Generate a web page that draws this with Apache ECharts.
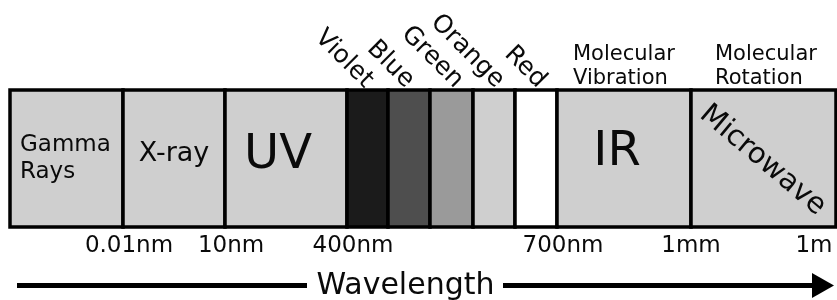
<!DOCTYPE html>
<html>
<head>
<meta charset="utf-8">
<script src="https://cdn.jsdelivr.net/npm/echarts@6/dist/echarts.min.js"></script>
<style>
  html, body { margin: 0; padding: 0; background: #fff; }
  #chart { width: 837px; height: 300px; }
</style>
</head>
<body>
<div id="chart"></div>
<script>
// bands of the spectrum, left to right (widths as drawn, not to scale)
const bandNames = ['Gamma Rays', 'X-ray', 'UV', 'Violet', 'Blue', 'Green', 'Orange', 'Red', 'IR', 'Microwave'];
const bandEdges = [0, 113, 215, 337, 378, 420, 463, 505, 547, 681, 826];
// wavelength marks at the band edges
const tickEdges = [113, 215, 337, 547, 681, 826];
const tickLabels = ['0.01nm', '10nm', '400nm', '700nm', '1mm', '1m'];
// what each region does to molecules
const aboveNames = ['IR', 'Microwave'];
const aboveLabels = ['Molecular\nVibration', 'Molecular\nRotation'];

const FONT = '"DejaVu Sans", sans-serif';
const LIGHT = '#cfcfcf';

// look of each band: fill, inner text, text above the box
const bandStyle = {
  'Gamma Rays': { fill: LIGHT, text: 'Gamma\nRays', size: 23, lh: 27, align: 'left', dx: 10, dy: 0 },
  'X-ray': { fill: LIGHT, text: 'X-ray', size: 27, dx: 0, dy: -5 },
  'UV': { fill: LIGHT, text: 'UV', size: 48, dx: -8, dy: -3 },
  'Violet': { fill: '#1b1b1b', tilt: 22 },
  'Blue': { fill: '#4e4e4e', tilt: 22 },
  'Green': { fill: '#9a9a9a', tilt: 29 },
  'Orange': { fill: LIGHT, tilt: 27 },
  'Red': { fill: '#ffffff', tilt: 27 },
  'IR': { fill: LIGHT, text: 'IR', size: 48, dx: -7, dy: -6, above: 16 },
  'Microwave': { fill: LIGHT, text: 'Microwave', size: 29, dx: -1, dy: 2, rot: -40, above: 24 }
};

const bandData = bandNames.map(function (name, i) {
  return [bandEdges[i], bandEdges[i + 1], i];
});

function renderBand(params, api) {
  const name = bandNames[api.value(2)];
  const st = bandStyle[name];
  const p0 = api.coord([api.value(0), 1]);
  const p1 = api.coord([api.value(1), 0]);
  const w = p1[0] - p0[0], h = p1[1] - p0[1];
  const kids = [{
    type: 'rect',
    shape: { x: p0[0], y: p0[1], width: w, height: h },
    style: { fill: st.fill, stroke: '#000', lineWidth: 3.5 }
  }];
  if (st.text) {
    const left = st.align === 'left';
    kids.push({
      type: 'text',
      x: (left ? p0[0] : p0[0] + w / 2) + st.dx,
      y: p0[1] + h / 2 + st.dy,
      rotation: st.rot ? st.rot * Math.PI / 180 : 0,
      style: {
        text: st.text, fill: '#0a0a0a', font: st.size + 'px ' + FONT,
        lineHeight: st.lh || st.size,
        align: left ? 'left' : 'center', verticalAlign: 'middle'
      }
    });
  }
  if (st.tilt) {
    // colour names lean up-left, ending just above their band
    kids.push({
      type: 'text',
      x: p0[0] + st.tilt,
      y: p0[1] - 6,
      rotation: -Math.PI / 4,
      style: {
        text: name, fill: '#0a0a0a', font: '25px ' + FONT,
        align: 'right', verticalAlign: 'middle'
      }
    });
  }
  const k = aboveNames.indexOf(name);
  if (k >= 0) {
    kids.push({
      type: 'text',
      x: p0[0] + st.above,
      y: p0[1] - 23,
      style: {
        text: aboveLabels[k], fill: '#0a0a0a', font: '21px ' + FONT,
        lineHeight: 24, align: 'left', verticalAlign: 'middle'
      }
    });
  }
  return { type: 'group', children: kids };
}

const chart = echarts.init(document.getElementById('chart'), null, { renderer: 'canvas' });

chart.setOption({
  animation: false,
  backgroundColor: '#fff',
  grid: { left: 10, right: 1, top: 90, bottom: 73 },
  xAxis: {
    type: 'value', min: 0, max: bandEdges[bandEdges.length - 1],
    axisLine: { show: false }, axisTick: { show: false }, splitLine: { show: false },
    axisLabel: {
      customValues: tickEdges,
      margin: 8,
      formatter: function (v) {
        const i = tickEdges.indexOf(v);
        if (i < 0) return '';
        if (tickLabels[i] === '1m') return '{end|' + tickLabels[i] + '}';
        if (tickLabels[i] === '1mm') return '{mid|' + tickLabels[i] + '}';
        return '{off|' + tickLabels[i] + '}';
      },
      rich: {
        off: { fontSize: 23, fontFamily: FONT, color: '#0a0a0a', padding: [0, 0, 0, 12] },
        mid: { fontSize: 23, fontFamily: FONT, color: '#0a0a0a' },
        end: { fontSize: 23, fontFamily: FONT, color: '#0a0a0a', padding: [0, 44, 0, 0] }
      }
    }
  },
  yAxis: { type: 'value', min: 0, max: 1, show: false },
  series: [{
    type: 'custom',
    renderItem: renderBand,
    encode: { x: [0, 1] },
    data: bandData,
    clip: false
  }],
  graphic: [
    { type: 'line', shape: { x1: 17, y1: 285.5, x2: 307, y2: 285.5 }, style: { stroke: '#000', lineWidth: 5 } },
    { type: 'text', x: 405.5, y: 286, style: { text: 'Wavelength', fill: '#0a0a0a', font: '30px ' + FONT, align: 'center', verticalAlign: 'middle' } },
    { type: 'line', shape: { x1: 503, y1: 285.5, x2: 815, y2: 285.5 }, style: { stroke: '#000', lineWidth: 5 } },
    { type: 'polygon', shape: { points: [[812, 273], [834, 285.5], [812, 298]] }, style: { fill: '#000' } }
  ]
});
</script>
</body>
</html>
